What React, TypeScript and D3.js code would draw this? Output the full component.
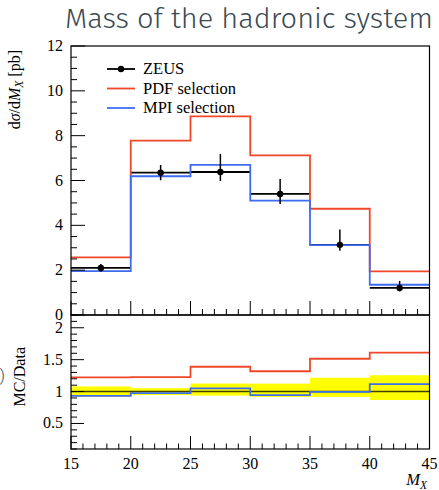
import React from "react";
import * as d3 from "d3";

const binEdges = [15, 20, 25, 30, 35, 40, 45];
const zeus = [2.1, 6.35, 6.38, 5.4, 3.13, 1.21];
const zeusErrUp = [0.17, 0.34, 0.8, 0.67, 0.68, 0.31];
const zeusErrDown = [0.17, 0.34, 0.4, 0.45, 0.26, 0.16];
const pdfSel = [2.57, 7.78, 8.86, 7.12, 4.74, 1.95];
const mpiSel = [1.96, 6.19, 6.7, 5.1, 3.12, 1.35];
const mainYTicks = [0, 2, 4, 6, 8, 10, 12];
const ratioYTicks = [0.5, 1, 1.5, 2];
const xTicks = [15, 20, 25, 30, 35, 40, 45];
const legendLabels = ["ZEUS", "PDF selection", "MPI selection"];

const RED = "#f0472a";
const BLUE = "#3d6cf2";
const SERIF = "'Liberation Serif', 'DejaVu Serif', serif";

export default function App() {
  const W = 439, H = 490;
  const L = 71, R = 429.5, T = 46, MB = 315, RB = 449;
  const x = d3.scaleLinear().domain([15, 45]).range([L, R]);
  const y = d3.scaleLinear().domain([0, 12]).range([MB, T]);
  const yr = d3.scaleLinear().domain([0.1, 2.2]).range([RB, MB]);

  const stepPath = (vals: number[], ys: d3.ScaleLinear<number, number>) => {
    const pts: [number, number][] = [];
    vals.forEach((v, i) => {
      pts.push([x(binEdges[i]), ys(v)]);
      pts.push([x(binEdges[i + 1]), ys(v)]);
    });
    return d3.line()(pts) || "";
  };

  const pdfRatio = pdfSel.map((v, i) => v / zeus[i]);
  const mpiRatio = mpiSel.map((v, i) => v / zeus[i]);

  const xMinor = d3.range(15, 45.01, 1);
  const yMinor = d3.range(0, 12.01, 0.5);
  const rMinor = d3.range(0.1, 2.201, 0.1);

  const isMult = (v: number, m: number) => Math.abs(v / m - Math.round(v / m)) < 1e-6;

  return (
    <svg width={W} height={H} style={{ position: "absolute", left: 0, top: 0, background: "#fff" }}>
      {/* title */}
      <text x={65} y={28} fontFamily="'Fira Sans', Roboto, 'Open Sans', sans-serif" fontWeight={300}
        fontSize={28} fill="#3a4a52" textLength={368} lengthAdjust="spacingAndGlyphs">
        Mass of the hadronic system
      </text>
      <text x={5} y={381} textAnchor="end" fontFamily="Roboto, sans-serif" fontWeight={300} fontSize={17} fill="#3a4a52">0)</text>

      {/* ratio band */}
      {zeus.map((v, i) => (
        <rect key={"b" + i} x={x(binEdges[i])} width={x(binEdges[i + 1]) - x(binEdges[i])}
          y={yr(1 + zeusErrUp[i] / v)} height={yr(1 - zeusErrDown[i] / v) - yr(1 + zeusErrUp[i] / v)}
          fill="#ffff00" />
      ))}
      <line x1={L} x2={R} y1={yr(1)} y2={yr(1)} stroke="#000" strokeOpacity={0.75} strokeWidth={1.6} />
      <path d={stepPath(pdfRatio, yr)} fill="none" stroke={RED} strokeWidth={1.8} />
      <path d={stepPath(mpiRatio, yr)} fill="none" stroke={BLUE} strokeWidth={1.8} />

      {/* main data horizontal bars */}
      {zeus.map((v, i) => (
        <line key={"h" + i} x1={x(binEdges[i])} x2={x(binEdges[i + 1])} y1={y(v)} y2={y(v)} stroke="#000" strokeWidth={1.8} />
      ))}
      <path d={stepPath(pdfSel, y)} fill="none" stroke={RED} strokeWidth={1.8} />
      <path d={stepPath(mpiSel, y)} fill="none" stroke={BLUE} strokeWidth={1.8} />
      {zeus.map((v, i) => {
        const cx = x((binEdges[i] + binEdges[i + 1]) / 2);
        return (
          <g key={"e" + i}>
            <line x1={cx} x2={cx} y1={y(v + zeusErrUp[i])} y2={y(v - zeusErrDown[i])} stroke="#000" strokeWidth={1.5} />
            <circle cx={cx} cy={y(v)} r={3.2} fill="#000" />
          </g>
        );
      })}

      {/* frames */}
      <rect x={L} y={T} width={R - L} height={MB - T} fill="none" stroke="#000" strokeWidth={1.2} />
      <rect x={L} y={MB} width={R - L} height={RB - MB} fill="none" stroke="#000" strokeWidth={1.2} />

      {/* x ticks main bottom and ratio bottom */}
      {xMinor.map((v, i) => {
        const major = isMult(v, 5);
        const len = major ? 14 : 6;
        return (
          <g key={"xt" + i}>
            <line x1={x(v)} x2={x(v)} y1={MB} y2={MB - len} stroke="#000" strokeWidth={1} />
            <line x1={x(v)} x2={x(v)} y1={RB} y2={RB - (major ? 13 : 5.5)} stroke="#000" strokeWidth={1} />
          </g>
        );
      })}
      {/* main y ticks */}
      {yMinor.map((v, i) => {
        const major = isMult(v, 2);
        return <line key={"yt" + i} x1={L} x2={L + (major ? 14 : 6)} y1={y(v)} y2={y(v)} stroke="#000" strokeWidth={1} />;
      })}
      {/* ratio y ticks */}
      {rMinor.map((v, i) => {
        const major = isMult(v, 0.5);
        return <line key={"rt" + i} x1={L} x2={L + (major ? 13 : 6)} y1={yr(v)} y2={yr(v)} stroke="#000" strokeWidth={1} />;
      })}

      {/* tick labels */}
      <g fontFamily={SERIF} fontSize={16} fill="#000">
        {mainYTicks.map((v) => (
          <text key={"ml" + v} x={63} y={y(v) + 5} textAnchor="end">{v}</text>
        ))}
        {ratioYTicks.map((v) => (
          <text key={"rl" + v} x={63} y={yr(v) + 5} textAnchor="end">{v}</text>
        ))}
        {xTicks.map((v) => (
          <text key={"xl" + v} x={x(v)} y={469} textAnchor="middle">{v}</text>
        ))}
      </g>

      {/* axis labels */}
      <text x={427} y={485} textAnchor="end" fontFamily={SERIF} fontSize={16.5}>
        <tspan fontStyle="italic">M</tspan>
        <tspan fontStyle="italic" fontSize={11.5} dy={4}>X</tspan>
      </text>
      <text transform="translate(20,50) rotate(-90)" textAnchor="end" fontFamily={SERIF} fontSize={16}>
        d<tspan fontStyle="italic">σ</tspan>/d<tspan fontStyle="italic">M</tspan>
        <tspan fontStyle="italic" fontSize={11.5} dy={3}>X</tspan>
        <tspan dy={-3}> [pb]</tspan>
      </text>
      <text transform="translate(25,347) rotate(-90)" textAnchor="end" fontFamily={SERIF} fontSize={16}>
        MC/Data
      </text>

      {/* legend */}
      <g fontFamily={SERIF} fontSize={16.5}>
        {legendLabels.map((lab, i) => {
          const ly = 69 + i * 19.5;
          const col = i === 0 ? "#000" : i === 1 ? RED : BLUE;
          return (
            <g key={"lg" + i}>
              <line x1={107} x2={135} y1={ly} y2={ly} stroke={col} strokeWidth={1.8} />
              {i === 0 && <circle cx={121} cy={ly} r={3.2} fill="#000" />}
              <text x={143} y={ly + 5}>{lab}</text>
            </g>
          );
        })}
      </g>
    </svg>
  );
}
